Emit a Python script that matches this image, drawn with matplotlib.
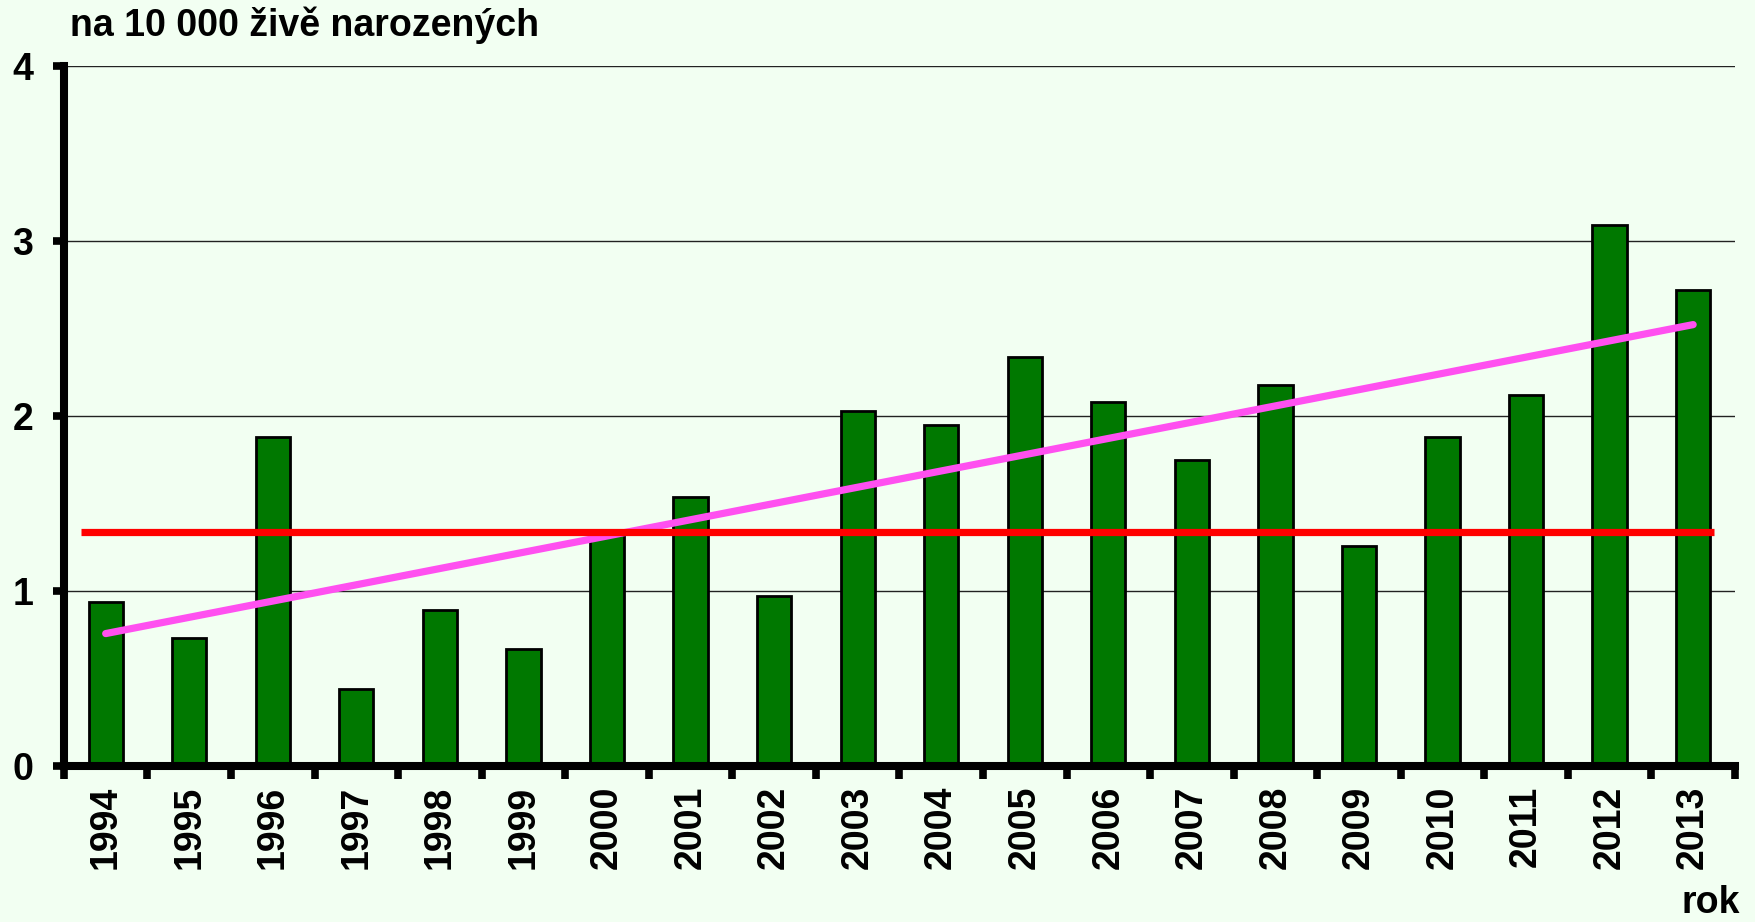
import matplotlib.pyplot as plt
import numpy as np

years = [str(y) for y in range(1994, 2014)]
rates = [0.94, 0.73, 1.88, 0.44, 0.89, 0.67, 1.33, 1.54, 0.97, 2.03,
         1.95, 2.34, 2.08, 1.75, 2.18, 1.26, 1.88, 2.12, 3.09, 2.72]
reference_level = 1.335

BG = "#F2FFF2"
BAR_GREEN = "#007800"
TREND_PINK = "#FF50F0"
FS = 27

plt.rcParams["font.family"] = ["Liberation Sans", "DejaVu Sans"]
plt.rcParams["font.weight"] = "bold"

fig = plt.figure(figsize=(17.56, 9.22), dpi=100, facecolor=BG)
ax = fig.add_axes([0.0364, 0.1692, 0.9516, 0.7592], facecolor=BG)

x = np.arange(len(years))
ax.bar(x, rates, width=0.41, color=BAR_GREEN, edgecolor="black",
       linewidth=2, zorder=3)

# linear trend through the yearly values
slope, intercept = np.polyfit(x, rates, 1)
ax.plot([x[0], x[-1]], [intercept + slope * x[0], intercept + slope * x[-1]],
        color=TREND_PINK, linewidth=5.2, solid_capstyle="round", zorder=4)

ax.plot([-0.3, len(years) - 0.75], [reference_level, reference_level],
        color="#FF0000", linewidth=5.2, solid_capstyle="butt", zorder=5)

ax.set_xlim(-0.5, len(years) - 0.5)
ax.set_ylim(0, 4)
ax.set_yticks([0, 1, 2, 3, 4])
ax.yaxis.grid(True, color="#222222", linewidth=1.0, zorder=0)
ax.set_axisbelow(True)

# ticks sit at category boundaries, labels at centres
ax.set_xticks(np.arange(-0.5, len(years)), minor=False)
ax.set_xticklabels([])
ax.set_xticks(x, minor=True)
ax.set_xticklabels(years, minor=True, rotation=90, fontsize=FS,
                   fontweight="bold")
ax.tick_params(axis="x", which="major", direction="out", length=9,
               width=5.5, color="black")
ax.tick_params(axis="x", which="minor", length=0, pad=14)
ax.tick_params(axis="y", direction="out", length=8, width=5.5,
               labelsize=FS, pad=14)
for lbl in ax.get_yticklabels():
    lbl.set_fontweight("bold")

for side in ["top", "right"]:
    ax.spines[side].set_visible(False)
for side in ["left", "bottom"]:
    ax.spines[side].set_linewidth(5.8)
    ax.spines[side].set_zorder(6)

fig.text(70 / 1756, 1 - 25 / 922, "na 10 000 živě narozených", fontsize=FS,
         fontweight="bold", ha="left", va="center")
fig.text(1740 / 1756, 1 - 903 / 922, "rok", fontsize=FS, fontweight="bold",
         ha="right", va="center")

fig.savefig("out.png", dpi=100, facecolor=BG)
